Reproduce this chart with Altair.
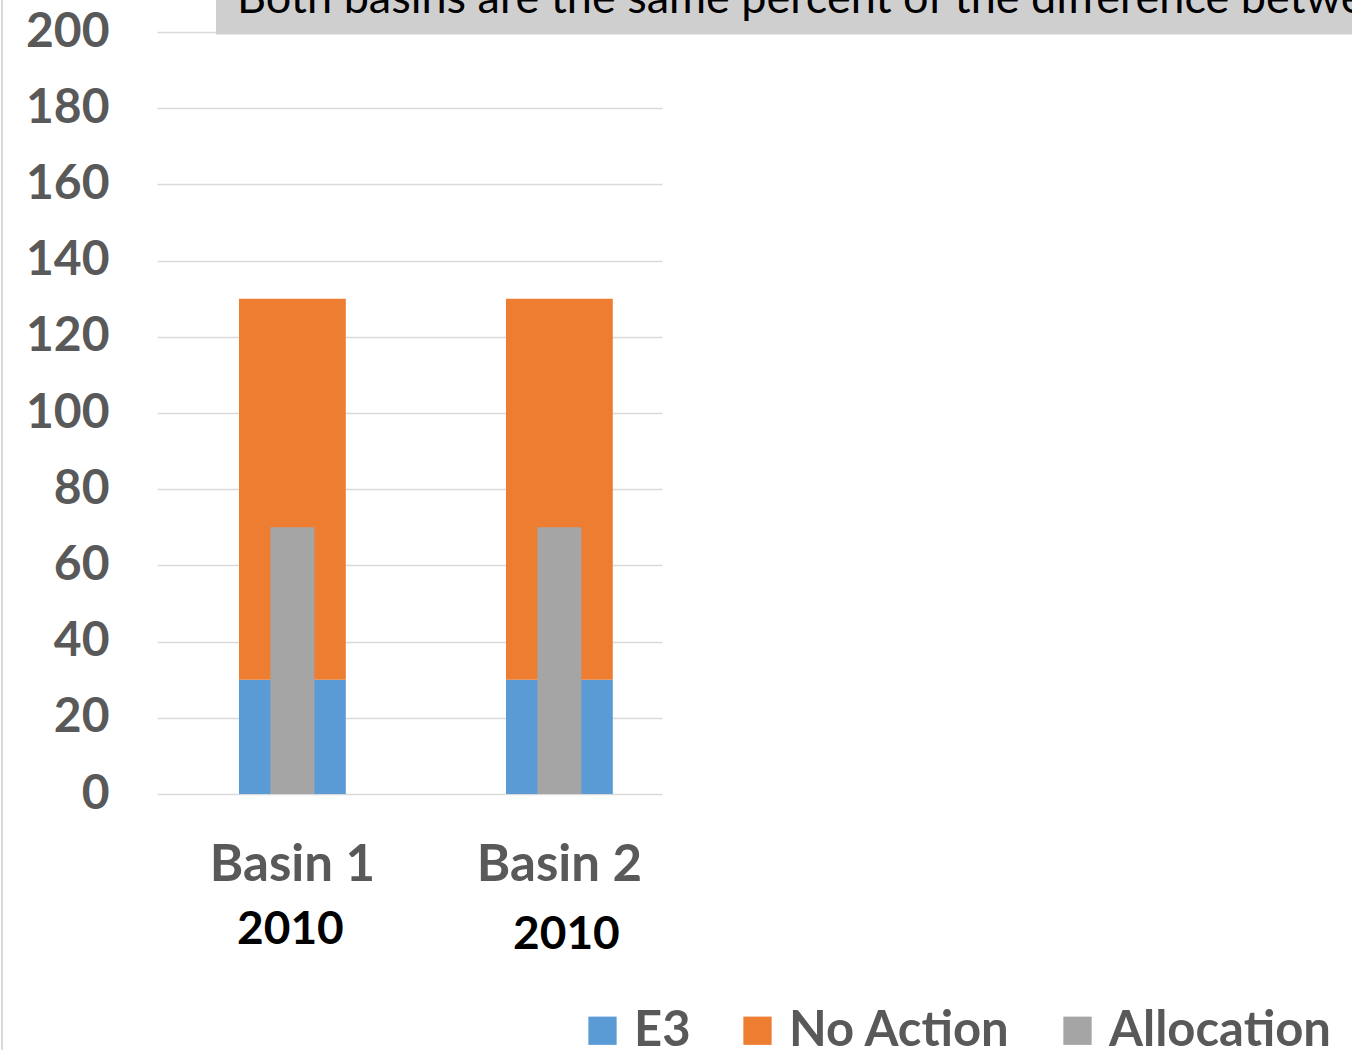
import altair as alt
import pandas as pd

# Chart values
basins = ["Basin 1", "Basin 2"]
years = ["2010", "2010"]
e3 = [30, 30]
no_action = [100, 100]      # stacked on top of E3 (30 -> 130)
allocation = [70, 70]

series_names = ["E3", "No Action", "Allocation"]
series_colors = ["#5b9bd5", "#ed7d31", "#a5a5a5"]
y_ticks = list(range(0, 201, 20))

headline = "Both basins are the same percent of the difference between"

FONT = "Lato"
GREY_TEXT = "#595959"
GRID = "#d9d9d9"

stack_df = pd.DataFrame({
    "basin": basins * 2,
    "series": ["E3"] * len(basins) + ["No Action"] * len(basins),
    "value": e3 + no_action,
    "rank": [0] * len(basins) + [1] * len(basins),
})
alloc_df = pd.DataFrame({
    "basin": basins,
    "series": ["Allocation"] * len(basins),
    "value": allocation,
})
year_df = pd.DataFrame({"basin": basins, "year": years})
one_row = pd.DataFrame({"k": [0]})

x_enc = alt.X(
    "basin:N",
    sort=basins,
    scale=alt.Scale(paddingInner=0.6, paddingOuter=0.2457, align=0.625),
    axis=alt.Axis(
        title=None, labelAngle=0, labelFontSize=51, labelFont=FONT,
        labelFontWeight="bold", labelColor=GREY_TEXT, labelPadding=46,
        ticks=False, domain=False, grid=False,
    ),
)

y_axis = alt.Axis(
    title=None, values=y_ticks, labelFontSize=48, labelFont=FONT,
    labelFontWeight="bold", labelColor=GREY_TEXT, labelPadding=48,
    ticks=False, domain=False, gridColor=GRID, gridWidth=1.5,
)
y_scale = alt.Scale(domain=[0, 200], nice=False)

color_enc = alt.Color(
    "series:N",
    scale=alt.Scale(domain=series_names, range=series_colors),
    legend=alt.Legend(
        title=None, orient="none", legendX=421, legendY=974,
        direction="horizontal", symbolType="square", symbolSize=800,
        symbolStrokeWidth=0, symbolOpacity=1,
        labelFontSize=49, labelFont=FONT, labelFontWeight="bold",
        labelColor=GREY_TEXT, labelOffset=7, columnPadding=42,
        labelLimit=400,
    ),
)

stacked = alt.Chart(stack_df).mark_bar().encode(
    x=x_enc,
    y=alt.Y("value:Q", stack="zero", scale=y_scale, axis=y_axis),
    color=color_enc,
    order=alt.Order("rank:Q"),
)

alloc = alt.Chart(alloc_df).mark_bar(size=44).encode(
    x=x_enc,
    y=alt.Y("value:Q", stack=None, scale=y_scale, axis=y_axis),
    color=color_enc,
)

# Year captions under each basin label
year_style = dict(font=FONT, fontSize=46, fontWeight="bold", color="black",
                  baseline="middle")
year_first = alt.Chart(year_df).transform_filter(
    alt.datum.basin == basins[0]
).mark_text(dx=-2, **year_style).encode(
    x=x_enc, y=alt.value(898), text="year:N"
)
year_second = alt.Chart(year_df).transform_filter(
    alt.datum.basin == basins[1]
).mark_text(dx=7, **year_style).encode(
    x=x_enc, y=alt.value(903), text="year:N"
)

headline_box = alt.Chart(one_row).mark_rect(color="#d0cfd0").encode(
    x=alt.value(59), x2=alt.value(1195), y=alt.value(-32), y2=alt.value(2.5)
)

headline_text = alt.Chart(one_row).mark_text(
    font=FONT, fontSize=45, color="black", align="left", baseline="alphabetic",
    text=headline,
).encode(x=alt.value(80), y=alt.value(-19))

left_edge = alt.Chart(one_row).mark_rule(color=GRID, strokeWidth=2).encode(
    x=alt.value(-155), y=alt.value(-32), y2=alt.value(1018)
)

chart = (
    alt.layer(stacked, alloc, year_first, year_second, headline_box,
              headline_text, left_edge)
    .properties(
        width=505,
        height=762,
        padding={"left": 157, "top": 32, "right": 690, "bottom": 256},
        autosize=alt.AutoSizeParams(type="none"),
        background="white",
    )
    .configure_view(stroke=None)
)

chart.save("out.html", embed_options={"renderer": "svg", "actions": False})
